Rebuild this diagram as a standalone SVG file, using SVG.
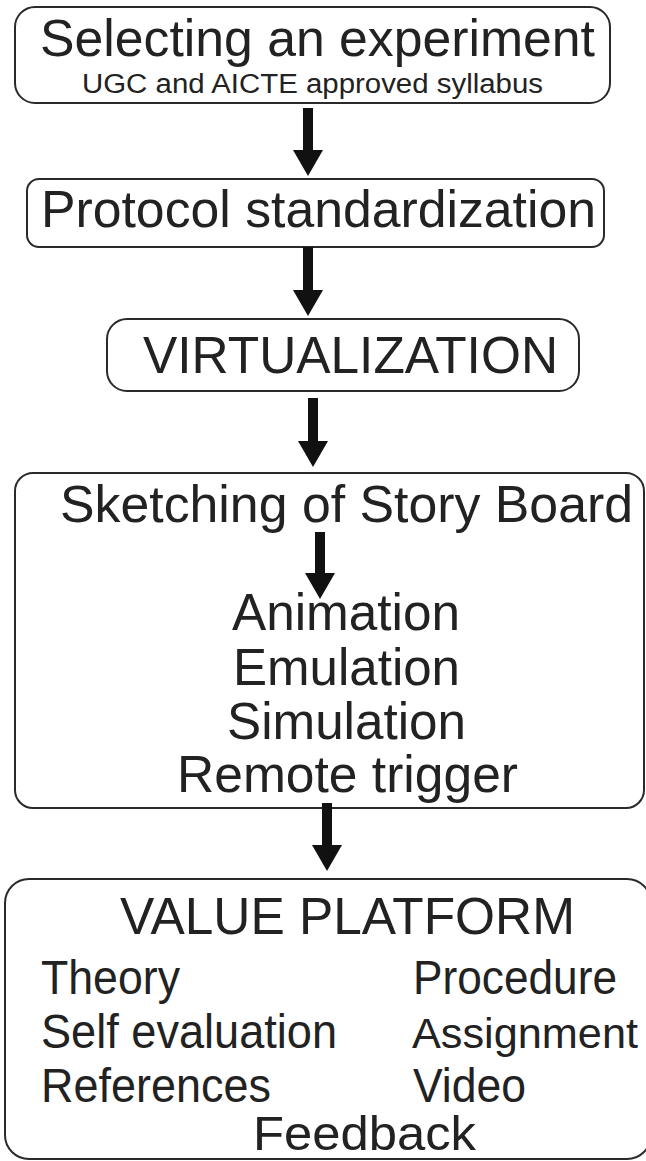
<svg xmlns="http://www.w3.org/2000/svg" width="646" height="1161" viewBox="0 0 646 1161">
<defs>
<style>
.box{fill:#fff;stroke:#2a2a2a;stroke-width:2}
.t{font-family:"Liberation Sans",Arial,Helvetica,sans-serif;fill:#222}
.big{font-size:52px}
.med{font-size:48px}
.sm{font-size:27px}
.conn{stroke:#111;stroke-width:10;fill:none}
</style>
<marker id="ah" markerUnits="userSpaceOnUse" viewBox="0 0 26 30" refX="0" refY="15" markerWidth="26" markerHeight="30" orient="auto">
<path d="M0,0 L26,15 L0,30 z" fill="#111"/>
</marker>
</defs>
<rect width="646" height="1161" fill="#fff"/>
<g id="n1">
<rect class="box" x="15" y="7" width="595" height="96" rx="20"/>
<text class="t big" x="40" y="56" textLength="555" lengthAdjust="spacingAndGlyphs">Selecting an experiment</text>
<text class="t sm" x="82" y="93" textLength="461" lengthAdjust="spacingAndGlyphs">UGC and AICTE approved syllabus</text>
</g>
<g id="n2">
<rect class="box" x="27" y="179" width="577" height="68" rx="12"/>
<text class="t big" x="41" y="227" textLength="555" lengthAdjust="spacingAndGlyphs">Protocol standardization</text>
</g>
<g id="n3">
<rect class="box" x="107" y="319" width="472" height="72" rx="20"/>
<text class="t big" x="143" y="373" textLength="415" lengthAdjust="spacingAndGlyphs">VIRTUALIZATION</text>
</g>
<g id="n4">
<rect class="box" x="15" y="473" width="629" height="335" rx="18"/>
<text class="t big" x="60" y="522" textLength="573" lengthAdjust="spacingAndGlyphs">Sketching of Story Board</text>
<text class="t big" x="232" y="630" textLength="228" lengthAdjust="spacingAndGlyphs">Animation</text>
<text class="t big" x="233" y="685" textLength="227" lengthAdjust="spacingAndGlyphs">Emulation</text>
<text class="t big" x="227" y="739" textLength="239" lengthAdjust="spacingAndGlyphs">Simulation</text>
<text class="t big" x="177" y="792" textLength="341" lengthAdjust="spacingAndGlyphs">Remote trigger</text>
</g>
<g id="n5">
<rect class="box" x="5" y="879" width="646" height="280" rx="24"/>
<text class="t big" x="120" y="934" textLength="455" lengthAdjust="spacingAndGlyphs">VALUE PLATFORM</text>
<text class="t med" x="41" y="994" textLength="139" lengthAdjust="spacingAndGlyphs">Theory</text>
<text class="t med" x="413" y="994" textLength="204" lengthAdjust="spacingAndGlyphs">Procedure</text>
<text class="t med" x="41" y="1048" textLength="296" lengthAdjust="spacingAndGlyphs">Self evaluation</text>
<text class="t" x="412" y="1048" font-size="43" textLength="226" lengthAdjust="spacingAndGlyphs">Assignment</text>
<text class="t med" x="41" y="1102" textLength="230" lengthAdjust="spacingAndGlyphs">References</text>
<text class="t med" x="413" y="1102" textLength="113" lengthAdjust="spacingAndGlyphs">Video</text>
<text class="t med" x="253" y="1150" textLength="223" lengthAdjust="spacingAndGlyphs">Feedback</text>
</g>
<g id="connectors">
<line class="conn" x1="308" y1="108" x2="308" y2="150" marker-end="url(#ah)"/>
<line class="conn" x1="308" y1="247" x2="308" y2="290" marker-end="url(#ah)"/>
<line class="conn" x1="313" y1="398" x2="313" y2="441" marker-end="url(#ah)"/>
<line class="conn" x1="320" y1="532" x2="320" y2="573" marker-end="url(#ah)"/>
<line class="conn" x1="327" y1="803" x2="327" y2="845" marker-end="url(#ah)"/>
</g>
</svg>
